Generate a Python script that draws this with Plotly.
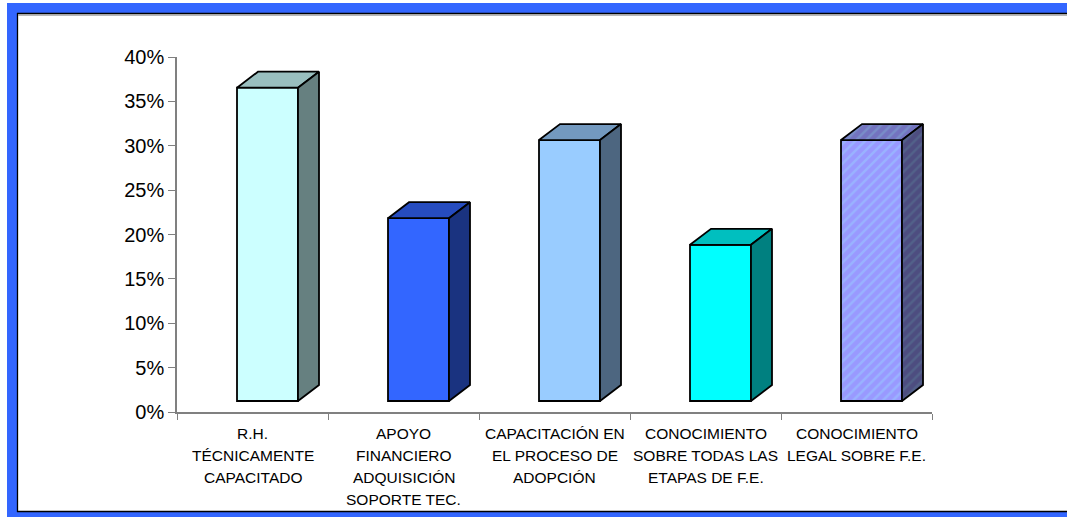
import plotly.graph_objects as go

categories = [
    "R.H.<br>TÉCNICAMENTE<br>CAPACITADO",
    "APOYO<br>FINANCIERO<br>ADQUISICIÓN<br>SOPORTE TEC.",
    "CAPACITACIÓN EN<br>EL PROCESO DE<br>ADOPCIÓN",
    "CONOCIMIENTO<br>SOBRE TODAS LAS<br>ETAPAS DE F.E.",
    "CONOCIMIENTO<br>LEGAL SOBRE F.E.",
]
values = [0.353, 0.206, 0.294, 0.176, 0.294]
front_colors = ["#CCFFFF", "#3366FF", "#99CCFF", "#00FFFF", "#9999FF"]
top_colors = ["#99BFBF", "#264CBF", "#7399BF", "#00BFBF", "#7373BF"]
side_colors = ["#668080", "#1A3380", "#4D6680", "#008080", "#4D4D80"]
stripe_colors = [None, None, None, None, "#99CCFF"]
y_ticks = [0, 0.05, 0.10, 0.15, 0.20, 0.25, 0.30, 0.35, 0.40]

# page / plot area in pixels
W, H = 1067, 517
L, R, T, B = 177, 135, 57, 105
plot_w, plot_h = W - L - R, H - T - B
y_max = 0.40
ux = plot_w / len(categories)   # px per category
uy = plot_h / y_max             # px per unit of value

# 3d box look, in data units
bar_off = -15.5 / ux
bar_w = 61 / ux
dx = 21 / ux
dy = 16 / uy
floor = 11 / uy

font = "Arial, Liberation Sans, sans-serif"


def shade(hex_color, f):
    h = hex_color.lstrip("#")
    rgb = [int(int(h[j:j + 2], 16) * f) for j in (0, 2, 4)]
    return "#%02X%02X%02X" % tuple(rgb)


fig = go.Figure()

for i, v in enumerate(values):
    x0 = i + bar_off
    x1 = x0 + bar_w
    top = floor + v
    stripe = stripe_colors[i]

    def pat(bg, f):
        if stripe is None:
            return None
        return dict(shape="/", bgcolor=bg, fgcolor=shade(stripe, f), size=7, solidity=0.35)

    # front face
    fig.add_trace(go.Bar(
        x=[i], y=[v], base=[floor], offset=bar_off, width=bar_w,
        marker=dict(color=front_colors[i], line=dict(color="black", width=1.8),
                    pattern=pat(front_colors[i], 1.0) or dict(shape="")),
        hoverinfo="skip", showlegend=False,
    ))
    # top face
    fig.add_trace(go.Scatter(
        x=[x0, x1, x1 + dx, x0 + dx, x0],
        y=[top, top, top + dy, top + dy, top],
        mode="lines", fill="toself", fillcolor=top_colors[i],
        fillpattern=pat(top_colors[i], 0.82),
        line=dict(color="black", width=1.8),
        hoverinfo="skip", showlegend=False,
    ))
    # side face
    fig.add_trace(go.Scatter(
        x=[x1, x1 + dx, x1 + dx, x1, x1],
        y=[floor, floor + dy, top + dy, top, floor],
        mode="lines", fill="toself", fillcolor=side_colors[i],
        fillpattern=pat(side_colors[i], 0.58),
        line=dict(color="black", width=1.8),
        hoverinfo="skip", showlegend=False,
    ))

# category labels, one line at a time
for i, cat in enumerate(categories):
    for k, line in enumerate(cat.split("<br>")):
        fig.add_annotation(
            x=i, y=0, xref="x", yref="y", text=line, showarrow=False,
            yanchor="middle", yshift=-21 - 22 * k,
            font=dict(family=font, size=15.5, color="black"),
        )


def px_x(p):
    return (p - L) / plot_w


def px_y(p):
    return (H - B - p) / plot_h


# blue frame around the chart (open on the right): left, top and bottom strips
frame = "#3366FF"
for (a, b, c, d) in [(7, 17, 3, H), (7, W, 3, 13), (7, W, 512, H)]:
    fig.add_shape(type="rect", xref="paper", yref="paper", layer="below",
                  x0=px_x(a), x1=px_x(b), y0=px_y(d), y1=px_y(c),
                  fillcolor=frame, line=dict(width=0))
# thin black edge on the inside of the frame, grey shadow under the top one
for (a, b, c, d, col) in [(17, W, 13.5, 13.5, "black"), (17, W, 511.5, 511.5, "black"),
                          (17.5, 17.5, 13, 512, "black"), (18, W, 15, 15, "#A0A0A0")]:
    fig.add_shape(type="line", xref="paper", yref="paper", layer="below",
                  x0=px_x(a), x1=px_x(b), y0=px_y(c), y1=px_y(d),
                  line=dict(color=col, width=1.3))

fig.update_layout(
    width=W, height=H,
    margin=dict(l=L, r=R, t=T, b=B),
    plot_bgcolor="rgba(0,0,0,0)",
    paper_bgcolor="white",
    font=dict(family=font, color="black"),
    barmode="overlay",
)
fig.update_xaxes(
    range=[-0.5, len(categories) - 0.5],
    tickvals=[i - 0.5 for i in range(len(categories) + 1)],
    showticklabels=False, ticks="outside", ticklen=6, tickcolor="#808080",
    showline=True, linecolor="#808080", linewidth=1.5,
    showgrid=False, zeroline=False, fixedrange=True,
)
fig.update_yaxes(
    range=[0, y_max], tickvals=y_ticks, tickformat=".0%",
    ticks="outside", ticklen=7, tickcolor="#808080",
    tickfont=dict(family=font, size=20, color="black"),
    showline=True, linecolor="#808080", linewidth=1.5,
    showgrid=False, zeroline=False, fixedrange=True,
)

fig.write_html("out.html", config={"displayModeBar": False},
               post_script="document.body.style.margin='0';document.body.style.overflow='hidden';")
